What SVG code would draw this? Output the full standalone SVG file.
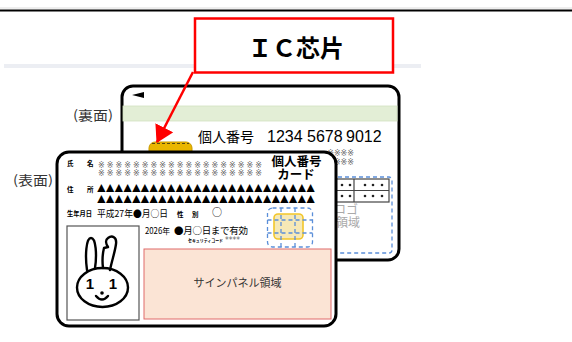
<svg xmlns="http://www.w3.org/2000/svg" width="572" height="342" viewBox="0 0 572 342">
  <style>
    .jp { font-family: "Noto Sans CJK JP", "Liberation Sans", sans-serif; }
    .card { fill: #ffffff; stroke: #000000; stroke-width: 3; }
    .tiny { font-family: "Noto Sans CJK JP", sans-serif; font-size: 6.5px; font-weight: bold; fill: #000; }
    .dash { fill: none; stroke: #5b8fd9; stroke-width: 1.3; stroke-dasharray: 4 3; }
    .rabbit { fill: none; stroke: #000; stroke-width: 2.4; stroke-linecap: round; stroke-linejoin: round; }
    .mark { font-family: "DejaVu Sans", "Noto Sans CJK JP", sans-serif; font-size: 8px; fill: #666; }
  </style>
  <defs>
    <marker id="redHead" markerUnits="userSpaceOnUse" markerWidth="17" markerHeight="20" refX="16" refY="10" orient="auto">
      <path d="M0,0 L17,10 L0,20 z" fill="#ff0000"/>
    </marker>
  </defs>

  <rect width="572" height="342" fill="#ffffff"/>

  <!-- header rule and faint guide band -->
  <g id="top-rule">
    <line x1="0" y1="8" x2="572" y2="8" stroke="#dddddd" stroke-width="1"/>
    <line x1="0" y1="10.5" x2="572" y2="10.5" stroke="#000000" stroke-width="2"/>
    <rect x="4" y="64" width="417" height="4" fill="#eceef3"/>
  </g>

  <!-- back side of the card -->
  <g id="back-card">
    <rect class="card" x="122" y="86" width="277" height="174" rx="11"/>
    <polygon points="132,95 144,92 144,98" fill="#000"/>
    <rect x="123" y="106" width="274" height="15" fill="#e3eed6" stroke="#d3e2c0" stroke-width="0.8"/>
    <text class="jp" y="142" fill="#000">
      <tspan x="198" font-size="14">個人番号</tspan>
      <tspan x="267" font-size="16" font-family="Liberation Sans, sans-serif">1234</tspan>
      <tspan x="307" font-size="16" font-family="Liberation Sans, sans-serif">5678</tspan>
      <tspan x="346" font-size="16" font-family="Liberation Sans, sans-serif">9012</tspan>
    </text>
    <rect x="149" y="142" width="43" height="30" rx="6" fill="#eab600" stroke="#c99a00" stroke-width="1"/>
    <line x1="152" y1="143.5" x2="189" y2="143.5" stroke="#5a4a10" stroke-width="1.2" stroke-dasharray="3 2"/>
    <text class="mark" x="354" y="156" text-anchor="end" fill="#444">※※※※</text>
    <text class="mark" x="354" y="165" text-anchor="end" fill="#444">※※※※</text>
    <rect class="dash" x="300" y="177" width="92" height="76" rx="3"/>
    <rect x="300" y="179" width="89" height="23" fill="none" stroke="#444" stroke-width="1.2"/>
    <line x1="300" y1="190.5" x2="389" y2="190.5" stroke="#444" stroke-width="1.2"/>
    <line x1="354" y1="179" x2="354" y2="202" stroke="#444" stroke-width="1.2"/>
    <g fill="#222">
      <circle cx="342" cy="185" r="1.3"/><circle cx="350" cy="185" r="1.3"/>
      <circle cx="365" cy="185" r="1.3"/><circle cx="373" cy="185" r="1.3"/><circle cx="382" cy="185" r="1.3"/>
      <circle cx="342" cy="196" r="1.3"/><circle cx="350" cy="196" r="1.3"/>
      <circle cx="365" cy="196" r="1.3"/><circle cx="373" cy="196" r="1.3"/><circle cx="382" cy="196" r="1.3"/>
    </g>
    <text class="jp" x="334" y="214" font-size="12" fill="#aaaaaa">ロゴ</text>
    <text class="jp" x="336" y="227" font-size="12" fill="#aaaaaa">領域</text>
  </g>

  <!-- front side of the card -->
  <g id="front-card">
    <rect class="card" x="57" y="152" width="279" height="174" rx="12"/>
    <text class="tiny" x="67" y="166">氏</text>
    <text class="tiny" x="87" y="166">名</text>
    <text class="mark" x="98" y="167.5" textLength="164" lengthAdjust="spacing">※※※※※※※※※※※※※※※※※※※</text>
    <text class="mark" x="98" y="176" textLength="164" lengthAdjust="spacing">※※※※※※※※※※※※※※※※※※※</text>
    <text class="tiny" x="67" y="192">住</text>
    <text class="tiny" x="87" y="192">所</text>
    <text class="jp" x="97" y="192" font-size="10" fill="#000" textLength="218" lengthAdjust="spacingAndGlyphs">▲▲▲▲▲▲▲▲▲▲▲▲▲▲▲▲▲▲▲▲▲▲▲▲▲</text>
    <text class="jp" x="97" y="202.5" font-size="10" fill="#000" textLength="218" lengthAdjust="spacingAndGlyphs">▲▲▲▲▲▲▲▲▲▲▲▲▲▲▲▲▲▲▲▲▲▲▲▲▲</text>
    <text class="tiny" x="67" y="216" textLength="25" lengthAdjust="spacingAndGlyphs">生年月日</text>
    <text class="jp" x="97" y="217" font-size="9.5" fill="#000" textLength="71" lengthAdjust="spacingAndGlyphs">平成27年●月○日</text>
    <text class="tiny" x="177" y="217">性</text>
    <text class="tiny" x="192" y="217">別</text>
    <text class="jp" x="212" y="216" font-size="10" fill="#000">○</text>
    <text class="jp" x="145" y="234" font-size="8.5" fill="#000" textLength="25" lengthAdjust="spacingAndGlyphs">2026年</text>
    <text class="jp" x="174" y="234" font-size="9.5" fill="#000" textLength="74" lengthAdjust="spacing">●月○日まで有効</text>
    <text class="jp" x="188" y="242" font-size="4.5" font-weight="bold" fill="#000" textLength="35" lengthAdjust="spacingAndGlyphs">セキュリティコード</text>
    <text class="mark" x="225" y="243" fill="#000" textLength="15" lengthAdjust="spacingAndGlyphs">****</text>
    <text class="jp" x="296.5" y="166" font-size="12.5" font-weight="bold" fill="#000" text-anchor="middle">個人番号</text>
    <text class="jp" x="296" y="179" font-size="12.5" font-weight="bold" fill="#000" text-anchor="middle">カード</text>
    <!-- contact chip -->
    <rect class="dash" x="267.5" y="208" width="45" height="39" rx="5"/>
    <rect x="274" y="214" width="29" height="25" rx="4" fill="#f6e9b6" stroke="#f2c62a" stroke-width="1.6"/>
    <line class="dash" x1="281" y1="208" x2="281" y2="247"/>
    <line class="dash" x1="295" y1="208" x2="295" y2="247"/>
    <line class="dash" x1="267.5" y1="220" x2="312.5" y2="220"/>
    <line class="dash" x1="267.5" y1="233" x2="312.5" y2="233"/>
    <!-- photo area with mascot -->
    <rect x="67" y="226" width="72" height="94" fill="#fff" stroke="#555" stroke-width="1.2"/>
    <path class="rabbit" d="M87,270 C85,256 86,238 91,238 C96,238 97,255 95,268"/>
    <path class="rabbit" d="M103,268 C102,260 103,252 104,248 L108,247 C106,244 105,240 108,238 C112,235 117,237 116,244 C115,252 112,260 110,270"/>
    <ellipse class="rabbit" cx="102.5" cy="287.5" rx="25.5" ry="19.5"/>
    <text x="90" y="289" font-family="Liberation Sans, sans-serif" font-size="15" font-weight="bold" text-anchor="middle" fill="#000">1</text>
    <text x="113" y="289" font-family="Liberation Sans, sans-serif" font-size="15" font-weight="bold" text-anchor="middle" fill="#000">1</text>
    <circle cx="102" cy="293" r="1.8" fill="#000"/>
    <path class="rabbit" d="M96,296 Q102,303 108,296"/>
    <!-- signature panel -->
    <rect x="144" y="249" width="187" height="70" fill="#fbe4d5" stroke="#e06a6a" stroke-width="1"/>
    <text class="jp" x="237.5" y="287" font-size="11" fill="#333" text-anchor="middle">サインパネル領域</text>
  </g>

  <g id="label-back">
    <text class="jp" x="73" y="120" font-size="13" fill="#333" textLength="40" lengthAdjust="spacingAndGlyphs">(裏面)</text>
  </g>
  <g id="label-front">
    <text class="jp" x="13" y="185" font-size="13" fill="#333" textLength="40" lengthAdjust="spacingAndGlyphs">(表面)</text>
  </g>

  <!-- callout for the IC chip -->
  <g id="ic-label">
    <rect x="195" y="18.5" width="198" height="54" fill="#ffffff" stroke="#ff0000" stroke-width="2.5"/>
    <text class="jp" x="296" y="57" font-size="24" font-weight="bold" fill="#000" text-anchor="middle">ＩＣ芯片</text>
  </g>

  <g id="connectors">
    <line x1="193" y1="72" x2="157" y2="142" stroke="#ff0000" stroke-width="2.5" marker-end="url(#redHead)"/>
  </g>
</svg>
